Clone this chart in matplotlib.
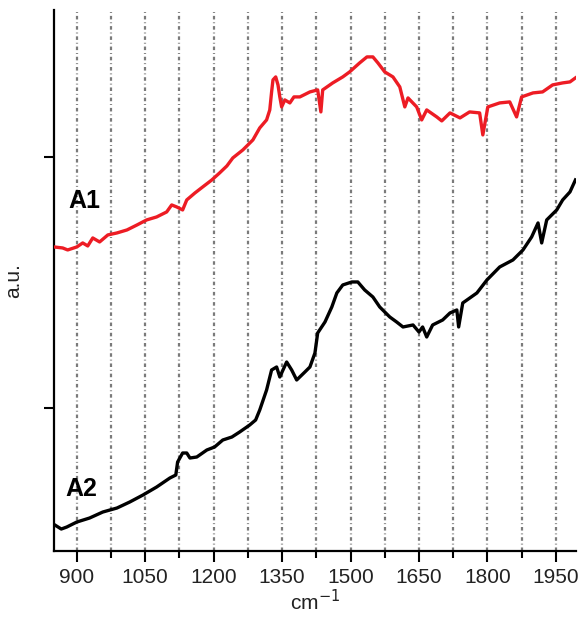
import numpy as np
import matplotlib
matplotlib.use("Agg")
import matplotlib.pyplot as plt

plt.rcParams['font.family'] = ['Liberation Sans', 'DejaVu Sans']

# spectrum A1 (red), wavenumber in cm-1, intensity in a.u.
a1_wn = [850, 869, 880, 900, 913, 924, 935, 950, 968, 988, 1010, 1032, 1053,
         1075, 1097, 1108, 1119, 1132, 1141, 1159, 1176, 1196, 1213, 1229,
         1242, 1264, 1275, 1286, 1301, 1316, 1323, 1327, 1330, 1336, 1341,
         1345, 1349, 1356, 1367, 1376, 1389, 1411, 1428, 1435, 1439, 1461,
         1483, 1498, 1520, 1536, 1549, 1560, 1575, 1593, 1608, 1619, 1626,
         1645, 1656, 1667, 1689, 1700, 1718, 1740, 1761, 1783, 1790, 1801,
         1827, 1849, 1864, 1875, 1900, 1921, 1943, 1965, 1981, 1993]
a1_int = [3.04, 3.03, 3.01, 3.04, 3.08, 3.05, 3.13, 3.09, 3.16, 3.18, 3.21, 3.26,
          3.31, 3.34, 3.39, 3.46, 3.44, 3.41, 3.51, 3.58, 3.64, 3.71, 3.78,
          3.85, 3.93, 4.01, 4.06, 4.11, 4.23, 4.31, 4.41, 4.59, 4.71, 4.74,
          4.66, 4.54, 4.44, 4.51, 4.48, 4.54, 4.54, 4.59, 4.61, 4.39, 4.61,
          4.68, 4.74, 4.79, 4.88, 4.94, 4.94, 4.88, 4.79, 4.74, 4.64, 4.44,
          4.53, 4.44, 4.31, 4.41, 4.34, 4.30, 4.38, 4.33, 4.39, 4.38, 4.16,
          4.44, 4.48, 4.49, 4.34, 4.54, 4.58, 4.59, 4.66, 4.68, 4.69, 4.73]

# spectrum A2 (black)
a2_wn = [852, 866, 878, 900, 928, 957, 988, 1016, 1045, 1075, 1104, 1117, 1121,
         1132, 1141, 1148, 1163, 1185, 1202, 1220, 1240, 1257, 1279, 1292,
         1301, 1316, 1327, 1338, 1345, 1360, 1371, 1382, 1400, 1411, 1422,
         1428, 1444, 1459, 1470, 1483, 1503, 1516, 1531, 1549, 1564, 1586,
         1601, 1615, 1637, 1650, 1658, 1667, 1680, 1702, 1718, 1733, 1737,
         1746, 1777, 1799, 1827, 1856, 1878, 1897, 1911, 1919, 1930, 1952,
         1965, 1981, 1993]
a2_int = [0.26, 0.22, 0.24, 0.29, 0.33, 0.39, 0.43, 0.49, 0.56, 0.64, 0.73, 0.76,
          0.89, 0.98, 0.98, 0.93, 0.94, 1.01, 1.04, 1.11, 1.14, 1.19, 1.26,
          1.31, 1.41, 1.61, 1.81, 1.84, 1.74, 1.89, 1.81, 1.71, 1.79, 1.84,
          1.98, 2.18, 2.29, 2.44, 2.58, 2.66, 2.69, 2.69, 2.61, 2.54, 2.44,
          2.34, 2.29, 2.24, 2.26, 2.19, 2.24, 2.14, 2.26, 2.31, 2.38, 2.41,
          2.24, 2.48, 2.58, 2.71, 2.84, 2.91, 3.01, 3.14, 3.28, 3.08, 3.31,
          3.41, 3.51, 3.59, 3.71]

major_ticks = [900, 1050, 1200, 1350, 1500, 1650, 1800, 1950]
minor_ticks = [975, 1125, 1275, 1425, 1575, 1725, 1875]
y_ticks = [1.43, 3.94]

fig = plt.figure(figsize=(5.83, 6.22), dpi=100)
ax = fig.add_axes((0.0926, 0.1141, 0.896, 0.870))

for x in major_ticks + minor_ticks:
    ax.axvline(x, color='#7a7a7a', lw=1.6, ls=(0, (1.6, 1.3, 0.4, 1.3)), zorder=1)

ax.plot(a1_wn, a1_int, color='#ed1c24', lw=2.4, zorder=3)
ax.plot(a2_wn, a2_int, color='black', lw=2.4, zorder=3)

ax.text(882, 3.50, 'A1', fontsize=18, fontweight='bold', va='center')
ax.text(875, 0.62, 'A2', fontsize=18, fontweight='bold', va='center')

ax.set_xlim(850, 1995)
ax.set_ylim(0, 5.41)

ax.set_xticks(major_ticks)
ax.set_xticks(minor_ticks, minor=True)
ax.set_yticks(y_ticks)
ax.set_yticklabels([])
ax.tick_params(axis='x', which='major', length=8, width=1.5, labelsize=15,
               labelcolor='#222222', pad=4)
ax.tick_params(axis='x', which='minor', length=5, width=1.5)
ax.tick_params(axis='y', length=7, width=1.5)

for s in ['top', 'right']:
    ax.spines[s].set_visible(False)
for s in ['left', 'bottom']:
    ax.spines[s].set_linewidth(1.6)

ax.set_xlabel('cm$^{-1}$', fontsize=15, color='#222222', labelpad=2)
ax.set_ylabel('a.u.', fontsize=15, color='#222222', labelpad=12)

fig.savefig('out.png', dpi=100)
